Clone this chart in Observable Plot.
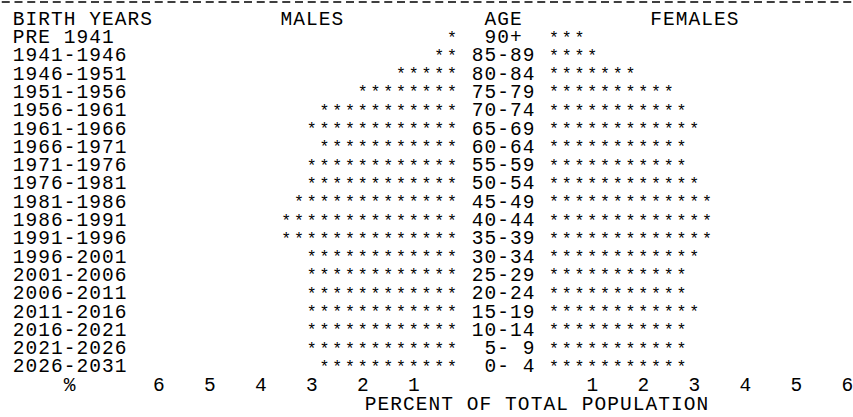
<!DOCTYPE html>
<html>
<head>
<meta charset="utf-8">
<script src="https://cdn.jsdelivr.net/npm/d3@7"></script>
<script src="https://cdn.jsdelivr.net/npm/@observablehq/plot@0.6"></script>
<style>
  html, body { margin: 0; padding: 0; background: #fff; }
  #chart svg { display: block; }
  #chart g[aria-label="stars"] text { letter-spacing: 0px; }
  #chart g[aria-label="caption"] text { letter-spacing: 0.45px; }
</style>
</head>
<body>
<div id="chart"></div>
<script>
// ---- data (one star = 0.25 % of total population) ----
const birthYears = ["PRE 1941", "1941-1946", "1946-1951", "1951-1956", "1956-1961", "1961-1966",
  "1966-1971", "1971-1976", "1976-1981", "1981-1986", "1986-1991", "1991-1996", "1996-2001",
  "2001-2006", "2006-2011", "2011-2016", "2016-2021", "2021-2026", "2026-2031"];
const ageGroups = [" 90+", "85-89", "80-84", "75-79", "70-74", "65-69", "60-64", "55-59", "50-54",
  "45-49", "40-44", "35-39", "30-34", "25-29", "20-24", "15-19", "10-14", " 5- 9", " 0- 4"];
const malesPct = [0.25, 0.5, 1.25, 2.0, 2.75, 3.0, 2.75, 3.0, 3.0, 3.25, 3.5, 3.5, 3.0,
  3.0, 3.0, 3.0, 3.0, 3.0, 2.75];
const femalesPct = [0.75, 1.0, 1.75, 2.5, 2.75, 3.0, 2.75, 2.75, 3.0, 3.25, 3.25, 3.25, 3.0,
  2.75, 2.75, 3.0, 2.75, 2.75, 2.75];
const tickValues = [1, 2, 3, 4, 5, 6];
const starStep = 0.25;

// ---- layout (character grid: one column = 0.25 %) ----
const col = 0.25;            // width of one character column in x units
const gap = 6 * col;         // centre gap holding the AGE column
const leftEdge = j => (j - 0.5) * col;   // x of the left edge of column j
const maleX = v => -(gap + v);
const femaleX = v => v;

const stars = [];
ageGroups.forEach((a, i) => {
  const nm = Math.round(malesPct[i] / starStep);
  const nf = Math.round(femalesPct[i] / starStep);
  for (let k = 1; k <= nm; k++) stars.push({row: i, x: maleX(k * starStep)});
  for (let k = 1; k <= nf; k++) stars.push({row: i, x: femaleX(k * starStep)});
});
const rows = ageGroups.map((a, i) => ({row: i, age: a, birth: birthYears[i]}));
const ticks = [
  ...tickValues.map(t => ({x: maleX(t), label: String(t)})),
  ...tickValues.map(t => ({x: femaleX(t), label: String(t)}))
];
const headers = [
  {x: leftEdge(-41), text: "BIRTH YEARS"},
  {x: leftEdge(-20), text: "MALES"},
  {x: leftEdge(-4), text: "AGE"},
  {x: leftEdge(9), text: "FEMALES"}
];

const pxPerUnit = 51, zeroPx = 541.25, W = 853, H = 417;
const x0 = (0 - zeroPx) / pxPerUnit, x1 = (W - zeroPx) / pxPerUnit;
const chart = Plot.plot({
  width: W,
  height: H,
  margin: 0,
  x: {domain: [x0, x1], range: [0, W], axis: null},
  y: {domain: [-2, 20], range: [-0.3, 402.3], axis: null},
  style: {
    fontFamily: "'Liberation Mono', 'DejaVu Sans Mono', monospace",
    fontSize: "19.5px",
    letterSpacing: "1.05px",
    whiteSpace: "pre",
    background: "#fff",
    color: "#000"
  },
  marks: [
    // dashed separator line of the printout
    Plot.ruleY([-2], {x1: x0, x2: x1, dy: 1.8, stroke: "#000", strokeWidth: 1.4,
      strokeDasharray: "8,4.75", strokeDashoffset: 11, ariaLabel: "separator"}),
    Plot.text(headers, {x: "x", y: () => -1, text: "text", textAnchor: "start", fill: "#000", ariaLabel: "headers"}),
    Plot.text(rows, {x: () => leftEdge(-41), y: "row", text: "birth", textAnchor: "start", fill: "#000", ariaLabel: "birth years"}),
    Plot.text(rows, {x: () => leftEdge(-5), y: "row", text: "age", textAnchor: "start", fill: "#000", ariaLabel: "ages"}),
    Plot.text(stars, {x: "x", y: "row", text: () => "*", fontSize: 16.5, dy: 0.5, fill: "#000", ariaLabel: "stars"}),
    Plot.text([{x: -9.25}], {x: "x", y: () => 19, text: () => "%", fill: "#000", ariaLabel: "percent sign"}),
    Plot.text(ticks, {x: "x", y: () => 19, text: "label", fill: "#000", ariaLabel: "ticks"}),
    Plot.text([{x: -0.093, t: "PERCENT OF TOTAL POPULATION"}], {x: "x", y: () => 20.05, text: "t", fill: "#000", ariaLabel: "caption"})
  ]
});
document.getElementById("chart").appendChild(chart);
</script>
</body>
</html>
